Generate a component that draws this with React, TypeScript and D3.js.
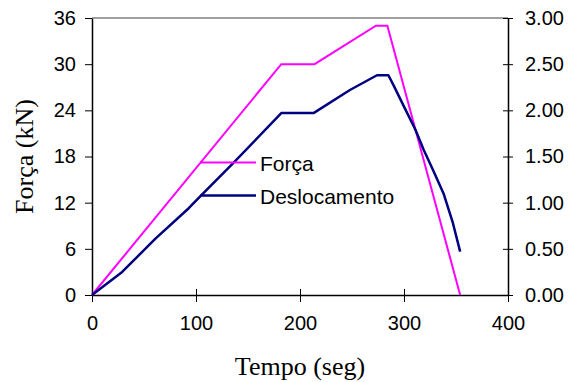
import React, { useEffect, useRef } from "react";
import * as d3 from "d3";

// Força (kN), left axis
const forcaTempo = [0, 182, 214, 273, 284, 354];
const forcaValores = [0, 30, 30, 35, 35, 0];

// Deslocamento, right axis
const deslTempo = [0, 29, 61, 93, 105, 136, 182, 195, 213, 248, 274, 285, 290, 300, 311, 319, 328, 338, 347, 354];
const deslValores = [0, 0.25, 0.61, 0.94, 1.08, 1.43, 1.97, 1.97, 1.97, 2.22, 2.38, 2.38, 2.27, 2.04, 1.79, 1.57, 1.35, 1.1, 0.78, 0.47];

const xTicks = [0, 100, 200, 300, 400];
const yLeftTicks = [0, 6, 12, 18, 24, 30, 36];
const yRightTicks = [0, 0.5, 1, 1.5, 2, 2.5, 3];

const legendLabels = ["Força", "Deslocamento"];
const colors = ["#ff00ff", "#000080"];

export default function App() {
  const svgRef = useRef<SVGSVGElement>(null);

  useEffect(() => {
    const width = 569;
    const height = 382;
    const left = 92;
    const right = 508;
    const top = 18;
    const bottom = 295;
    const sans = "'Liberation Sans', Arial, sans-serif";
    const serif = "'Liberation Serif', 'Times New Roman', serif";

    const svg = d3.select(svgRef.current).attr("width", width).attr("height", height);
    svg.selectAll("*").remove();

    const x = d3.scaleLinear().domain([0, 400]).range([left, right]);
    const yL = d3.scaleLinear().domain([0, 36]).range([bottom, top]);
    const yR = d3.scaleLinear().domain([0, 3]).range([bottom, top]);

    // top frame line
    svg
      .append("line")
      .attr("x1", left)
      .attr("x2", right)
      .attr("y1", top)
      .attr("y2", top)
      .attr("stroke", "#808080")
      .attr("stroke-width", 1.5);

    // bottom axis
    const xAxis = svg
      .append("g")
      .attr("transform", `translate(0, ${bottom})`)
      .call(d3.axisBottom(x).tickValues(xTicks).tickSize(7).tickPadding(14).tickSizeOuter(0));
    xAxis.selectAll("line").attr("y1", -6).attr("stroke", "#000");
    xAxis.select(".domain").attr("stroke", "#000").attr("stroke-width", 1.5);
    xAxis.selectAll("text").attr("font-size", "20px").attr("font-family", sans).attr("fill", "#000");

    // left axis
    const yAxisL = svg
      .append("g")
      .attr("transform", `translate(${left}, 0)`)
      .call(d3.axisLeft(yL).tickValues(yLeftTicks).tickSize(7).tickPadding(9).tickSizeOuter(0));
    yAxisL.selectAll("line").attr("stroke", "#000");
    yAxisL.select(".domain").attr("stroke", "#000").attr("stroke-width", 1.5);
    yAxisL.selectAll("text").attr("font-size", "20px").attr("font-family", sans).attr("fill", "#000");

    // right axis
    const yAxisR = svg
      .append("g")
      .attr("transform", `translate(${right}, 0)`)
      .call(
        d3
          .axisRight(yR)
          .tickValues(yRightTicks)
          .tickFormat(d3.format(".2f"))
          .tickSize(5)
          .tickPadding(12)
          .tickSizeOuter(0)
      );
    yAxisR.selectAll("line").attr("x1", -5).attr("stroke", "#000");
    yAxisR.select(".domain").attr("stroke", "#000").attr("stroke-width", 1.5);
    yAxisR.selectAll("text").attr("font-size", "20px").attr("font-family", sans).attr("fill", "#000");

    // lines
    const forcaLine = d3
      .line<number>()
      .x((d, i) => x(forcaTempo[i]))
      .y((d) => yL(d));

    const deslLine = d3
      .line<number>()
      .x((d, i) => x(deslTempo[i]))
      .y((d) => yR(d));

    svg
      .append("path")
      .attr("d", forcaLine(forcaValores))
      .attr("fill", "none")
      .attr("stroke", colors[0])
      .attr("stroke-width", 2);

    svg
      .append("path")
      .attr("d", deslLine(deslValores))
      .attr("fill", "none")
      .attr("stroke", colors[1])
      .attr("stroke-width", 2.5)
      .attr("stroke-linejoin", "round");

    // legend
    const legend = svg.append("g").attr("transform", "translate(200, 162.5)");
    legendLabels.forEach((label, i) => {
      legend
        .append("line")
        .attr("x1", 0)
        .attr("x2", 56)
        .attr("y1", i * 33)
        .attr("y2", i * 33)
        .attr("stroke", colors[i])
        .attr("stroke-width", i === 0 ? 2 : 2.5);
      legend
        .append("text")
        .attr("x", 60)
        .attr("y", i * 33 + 8)
        .attr("font-size", "21px")
        .attr("font-family", sans)
        .attr("fill", "#000")
        .text(label);
    });

    // axis titles
    svg
      .append("text")
      .attr("x", (left + right) / 2)
      .attr("y", 375)
      .attr("text-anchor", "middle")
      .attr("font-size", "26px")
      .attr("font-family", serif)
      .attr("fill", "#000")
      .text("Tempo (seg)");

    svg
      .append("text")
      .attr("transform", `translate(33, ${(top + bottom) / 2}) rotate(-90)`)
      .attr("text-anchor", "middle")
      .attr("font-size", "26px")
      .attr("font-family", serif)
      .attr("fill", "#000")
      .text("Força (kN)");
  }, []);

  return (
    <div>
      <svg ref={svgRef} style={{ position: "absolute", left: 0, top: 0 }}></svg>
    </div>
  );
}
